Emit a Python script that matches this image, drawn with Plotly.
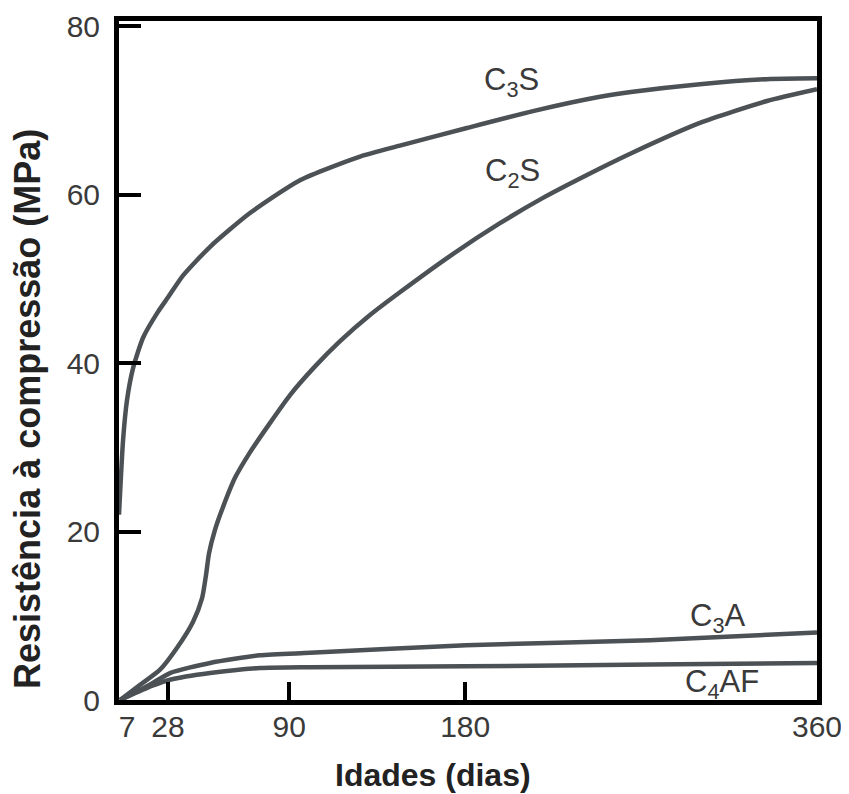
import plotly.graph_objects as go

# ---- data ----
c3s_days = [2.9, 5.0, 7.0, 10.1, 15.2, 22.9, 28.0, 35.7, 49.5, 69.9, 95.5, 126.2, 146.6, 180.9, 214.7, 249.0, 265.8, 300.1, 334.4, 360]
c3s_mpa = [22.0, 30.9, 35.6, 39.4, 43.0, 46.1, 47.8, 50.4, 53.8, 57.8, 61.7, 64.5, 65.8, 67.9, 69.9, 71.6, 72.2, 73.1, 73.7, 73.8]

c2s_days = [3.4, 13.7, 23.9, 32.6, 40.8, 45.4, 47.4, 48.95, 52.0, 56.1, 62.3, 69.9, 80.2, 90.4, 103.2, 116.0, 131.3, 146.6, 172.2, 197.8, 219.8, 232.0, 248.9, 265.8, 300.1, 334.4, 360]
c2s_mpa = [0.0, 1.8, 3.6, 6.2, 9.3, 12.1, 14.8, 17.4, 20.2, 22.9, 26.4, 29.4, 32.9, 36.2, 39.6, 42.6, 45.7, 48.4, 52.7, 56.6, 59.6, 61.1, 63.1, 65.0, 68.5, 71.1, 72.5]

c3a_days = [3.4, 13.7, 20, 29, 49.5, 75, 100.6, 180.4, 274.6, 360]
c3a_mpa = [0, 1.2, 2.0, 3.2, 4.4, 5.3, 5.6, 6.5, 7.1, 8.0]

c4af_days = [3.4, 20, 29, 49.5, 75, 100.6, 180, 274.6, 360]
c4af_mpa = [0, 1.7, 2.4, 3.2, 3.8, 3.9, 4.0, 4.2, 4.4]

x_tick_marks = [28, 90, 180, 360]
x_tick_labels = [7, 28, 90, 180, 360]
y_ticks = [0, 20, 40, 60, 80]

labels = ["C<sub>3</sub>S", "C<sub>2</sub>S", "C<sub>3</sub>A", "C<sub>4</sub>AF"]
label_days = [203.9, 204.4, 309.3, 311.3]
label_mpa = [73.35, 62.55, 9.73, 1.9]

x_title = "Idades (dias)"
y_title = "Resistência à compressão (MPa)"

LINE = "#4c5155"
TXT = "#3a3a3a"
FONT = "Liberation Sans, Arial, sans-serif"

fig = go.Figure()
for xs, ys in [(c3s_days, c3s_mpa), (c2s_days, c2s_mpa), (c3a_days, c3a_mpa), (c4af_days, c4af_mpa)]:
    fig.add_trace(go.Scatter(x=xs, y=ys, mode="lines",
                             line=dict(color=LINE, width=4.5, shape="spline", smoothing=0.6),
                             showlegend=False, hoverinfo="skip"))

# invisible trace on the label-only x axis
fig.add_trace(go.Scatter(x=[7], y=[0], xaxis="x2", mode="lines", showlegend=False,
                         line=dict(width=0), hoverinfo="skip"))

for t, xd, ym in zip(labels, label_days, label_mpa):
    fig.add_annotation(x=xd, y=ym, text=t, showarrow=False,
                       font=dict(family=FONT, size=31, color=TXT))

fig.add_annotation(xref="paper", yref="paper", x=0.4499, y=-0.1105, text="<b>%s</b>" % x_title,
                   showarrow=False, xanchor="center", yanchor="middle",
                   font=dict(family=FONT, size=32, color="#222"))
fig.add_annotation(xref="paper", yref="paper", x=-0.1304, y=0.4286, text="<b>%s</b>" % y_title,
                   showarrow=False, xanchor="center", yanchor="middle", textangle=-90,
                   font=dict(family=FONT, size=36, color="#222"))

XR = [2.9, 360]
fig.update_layout(
    width=841, height=786,
    margin=dict(l=111, r=32, t=13, b=94),
    paper_bgcolor="white", plot_bgcolor="white",
    xaxis=dict(range=XR, tickvals=x_tick_marks, showticklabels=False,
               ticks="inside", ticklen=18, tickwidth=4, tickcolor="black",
               showline=True, linewidth=5, linecolor="black", mirror=True,
               showgrid=False, zeroline=False, automargin=False),
    xaxis2=dict(range=XR, overlaying="x", anchor="y", side="bottom",
                tickvals=x_tick_labels, ticktext=[str(v) for v in x_tick_labels],
                ticks="", showline=False, showgrid=False, zeroline=False, automargin=False,
                ticklabelstandoff=6,
                tickfont=dict(family=FONT, size=30, color=TXT)),
    yaxis=dict(range=[0, 80.6], tickvals=y_ticks, ticktext=[str(v) for v in y_ticks],
               ticks="inside", ticklen=22, tickwidth=4, tickcolor="black",
               showline=True, linewidth=5, linecolor="black", mirror=True,
               showgrid=False, zeroline=False, automargin=False, ticklabelstandoff=8,
               tickfont=dict(family=FONT, size=30, color=TXT)),
)

fig.write_html("out.html")
